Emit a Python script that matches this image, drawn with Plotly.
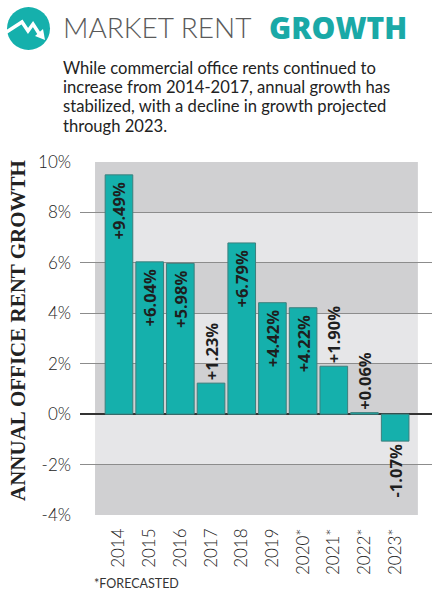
import plotly.graph_objects as go

years = ["2014", "2015", "2016", "2017", "2018", "2019", "2020*", "2021*", "2022*", "2023*"]
growth = [9.49, 6.04, 5.98, 1.23, 6.79, 4.42, 4.22, 1.90, 0.06, -1.07]
y_tick_vals = [10, 8, 6, 4, 2, 0, -2, -4]
y_tick_labels = ["10%", "8%", "6%", "4%", "2%", "0%", "-2%", "-4%"]
subtitle_lines = [
    "While commercial office rents continued to",
    "increase from 2014-2017, annual growth has",
    "stabilized, with a decline in growth projected",
    "through 2023.",
]

TEAL = "#15b0ac"
W, H = 442, 600
L, R, T, B = 80, 10, 162, 85
PW, PH = W - L - R, H - T - B


def px(x):
    return (x - L) / PW


def py(y):
    return (H - B - y) / PH


labels = [f"{v:+.2f}%" for v in growth]
positions = ["inside" if v >= 4 else "outside" for v in growth]
labels = [t + " " if p == "inside" else t for t, p in zip(labels, positions)]

fig = go.Figure(
    go.Bar(
        x=years,
        y=growth,
        text=labels,
        textposition=positions,
        insidetextanchor="end",
        textangle=-90,
        constraintext="none",
        cliponaxis=False,
        textfont=dict(family="Open Sans", size=16.5, color="#1e1e1e", weight="bold"),
        marker=dict(color=TEAL, line=dict(color="#3d7f7d", width=1)),
        hoverinfo="skip",
    )
)

# alternating grey bands behind the bars
shapes = []
for i, (hi, lo) in enumerate(zip(y_tick_vals[:-1], y_tick_vals[1:])):
    shapes.append(
        dict(
            type="rect", xref="x", yref="y", x0=-0.78, x1=9.74, y0=lo, y1=hi,
            fillcolor="#d0d0d2" if i % 2 == 0 else "#e6e6e8",
            line=dict(width=0), layer="below",
        )
    )

# header icon
shapes.append(
    dict(type="circle", xref="paper", yref="paper", x0=px(7), x1=px(50), y0=py(50), y1=py(7),
         fillcolor=TEAL, line=dict(width=0))
)
pts = [(5, 33), (22, 22), (28, 31), (33, 24), (40, 35)]
path = "M " + " L ".join(f"{px(a):.4f},{py(b):.4f}" for a, b in pts)
shapes.append(dict(type="path", xref="paper", yref="paper", path=path, line=dict(color="white", width=3.5)))
head = [(45, 40), (35, 36), (43, 29)]
path = "M " + " L ".join(f"{px(a):.4f},{py(b):.4f}" for a, b in head) + " Z"
shapes.append(dict(type="path", xref="paper", yref="paper", path=path, fillcolor="white", line=dict(width=0)))

annotations = [
    dict(text="MARKET RENT", x=px(61), y=py(27), xanchor="left", yanchor="middle",
         font=dict(family="Lato", size=28, color="#5a5a5a", weight=300)),
    dict(text="GROWTH", x=px(267), y=py(27), xanchor="left", yanchor="middle",
         font=dict(family="Open Sans", size=30, color="#1aa9a7", weight=800)),
    dict(text="ANNUAL OFFICE RENT GROWTH", x=px(18), y=py(331), textangle=-90,
         xanchor="center", yanchor="middle",
         font=dict(family="Liberation Serif", size=21, color="#222222", weight="bold")),
    dict(text="*FORECASTED", x=px(92), y=py(583), xanchor="left", yanchor="middle",
         font=dict(family="Lato", size=12.5, color="#333333")),
]
for i, line in enumerate(subtitle_lines):
    annotations.append(
        dict(text=line, x=px(61), y=py(68 + 19.2 * i), xanchor="left", yanchor="middle",
             font=dict(family="Lato", size=16.6, color="#222222"))
    )
for a in annotations:
    a.update(xref="paper", yref="paper", showarrow=False)

fig.update_layout(
    width=W, height=H,
    margin=dict(l=L, r=R, t=T, b=B),
    paper_bgcolor="white", plot_bgcolor="white",
    showlegend=False,
    bargap=0.1,
    shapes=shapes,
    annotations=annotations,
    xaxis=dict(
        range=[-1.27, 10.2], tickangle=-90, showgrid=False, zeroline=False,
        ticks="", ticklabelstandoff=9,
        tickfont=dict(family="Lato", size=17, color="#222222", weight=300),
    ),
    yaxis=dict(
        range=[-4, 10], tickvals=y_tick_vals, ticktext=y_tick_labels,
        showgrid=True, gridcolor="#8c8c8c", gridwidth=1,
        zeroline=True, zerolinecolor="#333333", zerolinewidth=1.5,
        ticks="", ticklabelstandoff=8,
        tickfont=dict(family="Lato", size=17, color="#222222", weight=300),
    ),
)

fig.write_html(
    "out.html",
    config={"displayModeBar": False},
    post_script="document.body.style.margin = '0';",
)
